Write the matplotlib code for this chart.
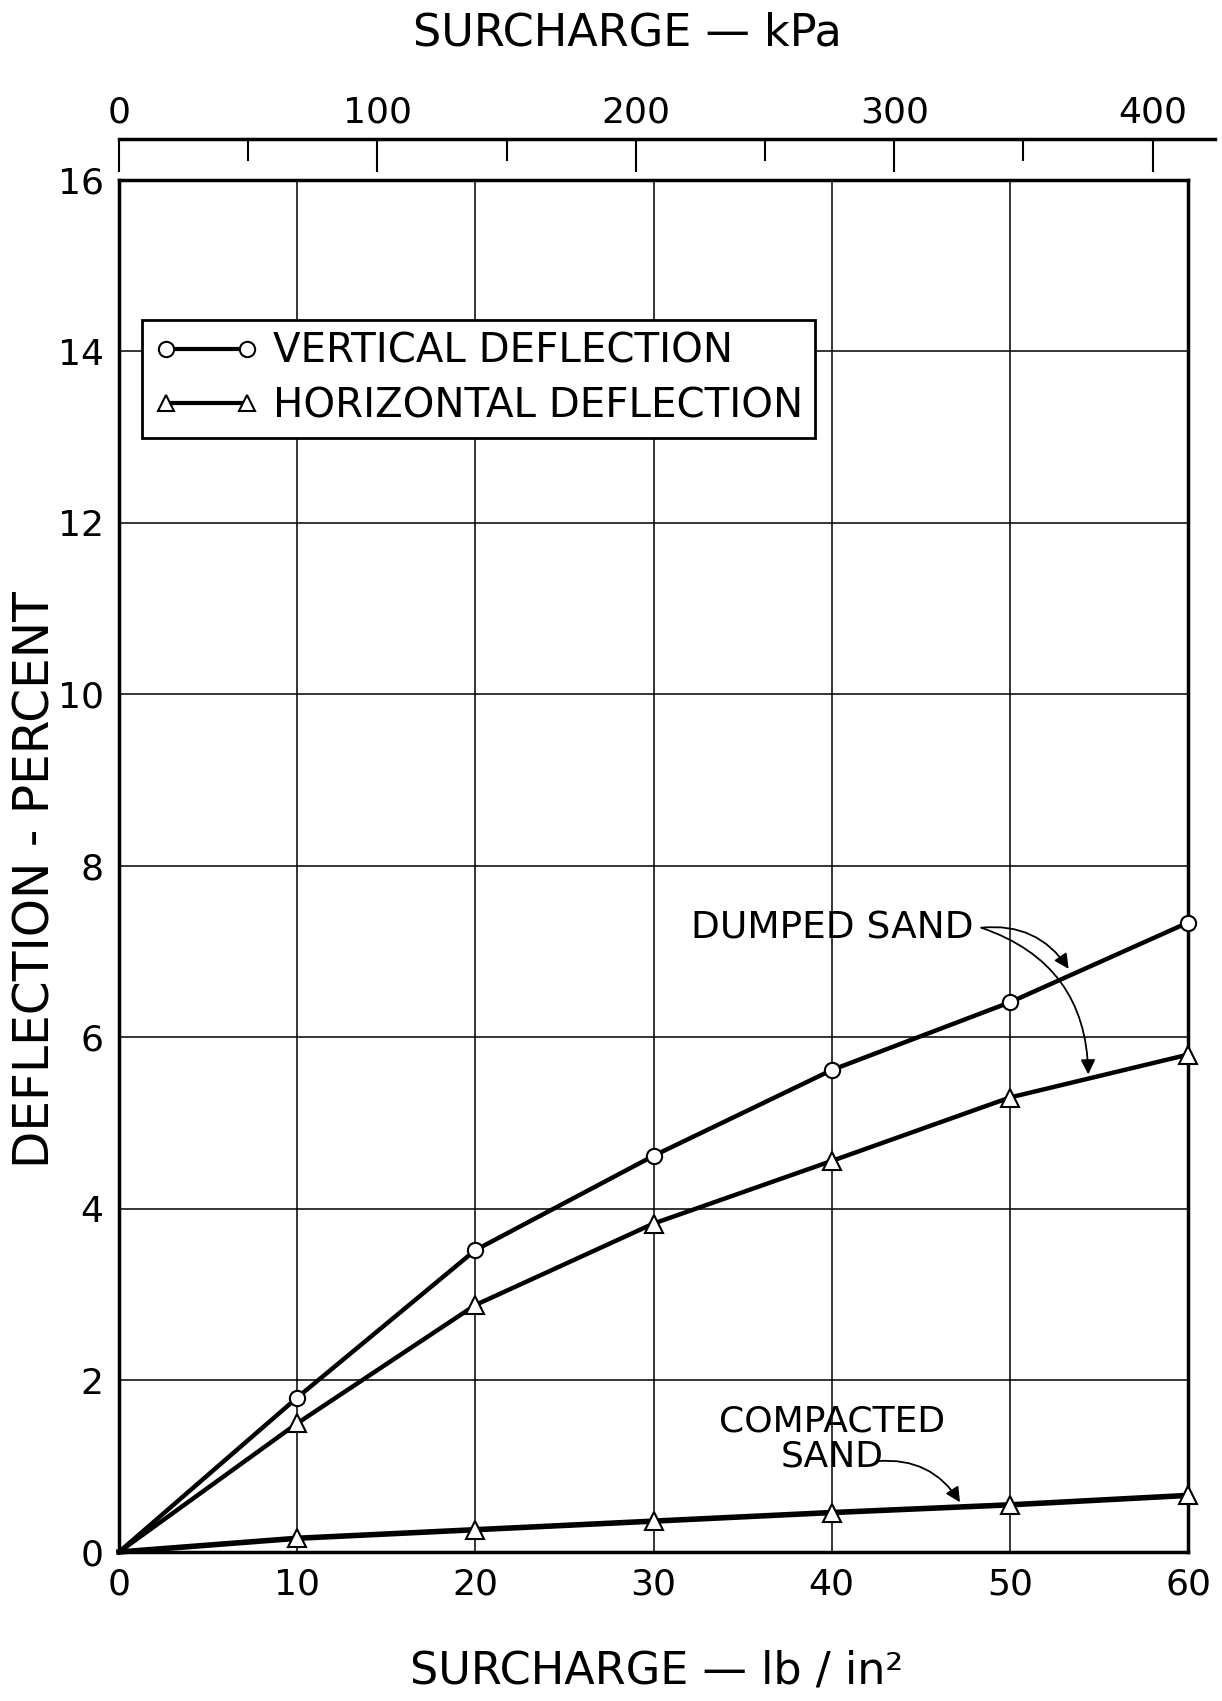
import numpy as np
import matplotlib
matplotlib.use('Agg')
import matplotlib.pyplot as plt
from matplotlib.lines import Line2D

plt.rcParams['font.family'] = ['DejaVu Sans']

# surcharge in lb/in2 and deflection in percent
surcharge_psi = [0, 10, 20, 30, 40, 50, 60]
dumped_vertical = [0, 1.80, 3.52, 4.62, 5.62, 6.41, 7.34]
dumped_horizontal = [0, 1.50, 2.88, 3.83, 4.56, 5.30, 5.80]
compacted_horizontal = [0, 0.16, 0.26, 0.36, 0.46, 0.55, 0.66]

psi_ticks = [0, 10, 20, 30, 40, 50, 60]
defl_ticks = [0, 2, 4, 6, 8, 10, 12, 14, 16]
kpa_major = [0, 100, 200, 300, 400]
kpa_minor = [50, 150, 250, 350]
KPA_PER_PSI = 6.895

fig = plt.figure(figsize=(12.22, 17.01), dpi=100)
ax = fig.add_axes([0.0974, 0.0876, 0.8748, 0.8066])

ax.plot(surcharge_psi, dumped_vertical, color='black', lw=3.2, marker='o', ms=11,
        mfc='white', mec='black', mew=1.5, markevery=slice(1, None), zorder=3, clip_on=False)
ax.plot(surcharge_psi, dumped_horizontal, color='black', lw=3.2, marker='^', ms=13,
        mfc='white', mec='black', mew=1.5, markevery=slice(1, None), zorder=3, clip_on=False)
ax.plot(surcharge_psi, compacted_horizontal, color='black', lw=4, marker='^', ms=13,
        mfc='white', mec='black', mew=1.5, markevery=slice(1, None), zorder=3, clip_on=False)

ax.set_xlim(0, 60)
ax.set_ylim(0, 16)
ax.set_xticks(psi_ticks)
ax.set_yticks(defl_ticks)
ax.tick_params(length=0, labelsize=26)
ax.tick_params(axis='x', pad=11)
ax.tick_params(axis='y', pad=11)
ax.grid(True, color='black', lw=1.1)
for s in ax.spines.values():
    s.set_linewidth(2.5)

# kPa scale on top, drawn as its own axis line
w_main = 0.8748
w_top = 0.8969
axk = fig.add_axes([0.0974, 0.9183, w_top, 0.0001])
axk.set_xlim(0, 60 * KPA_PER_PSI * w_top / w_main)
axk.set_xticks(kpa_major)
axk.set_xticks(kpa_minor, minor=True)
axk.xaxis.set_ticks_position('top')
axk.xaxis.set_label_position('top')
axk.tick_params(axis='x', which='major', direction='in', length=24, width=1.5,
                labelsize=26, pad=7)
axk.tick_params(axis='x', which='minor', direction='in', length=16, width=1.5)
axk.set_yticks([])
for k in ['left', 'right', 'bottom']:
    axk.spines[k].set_visible(False)
axk.spines['top'].set_linewidth(2.5)
axk.patch.set_visible(False)

fig.text(0.513, 0.9806, 'SURCHARGE — kPa', fontsize=32, ha='center', va='center')
fig.text(0.537, 0.0176, 'SURCHARGE — lb / in²', fontsize=32, ha='center', va='center')
fig.text(0.029, 0.483, 'DEFLECTION - PERCENT', fontsize=35, rotation=90,
         ha='center', va='center')

handles = [Line2D([], [], color='black', lw=3, marker='o', ms=11, mfc='white', mew=1.5),
           Line2D([], [], color='black', lw=3, marker='^', ms=12, mfc='white', mew=1.5)]
leg = ax.legend(handles, ['VERTICAL DEFLECTION', 'HORIZONTAL DEFLECTION'],
                loc='upper left', bbox_to_anchor=(0.0215, 0.898), borderaxespad=0,
                numpoints=2, handlelength=2.6, handletextpad=0.35, fontsize=29,
                labelspacing=0.35, borderpad=0.3, fancybox=False, framealpha=1)
leg.get_frame().set_edgecolor('black')
leg.get_frame().set_linewidth(2)

# notes with arrows
ax.text(32.1, 7.27, 'DUMPED SAND', fontsize=27, ha='left', va='center')
arrow = dict(arrowstyle='-|>', color='black', lw=1.3, mutation_scale=22, shrinkA=0, shrinkB=0)
ax.annotate('', xy=(53.3, 6.80), xytext=(48.4, 7.28),
            arrowprops=dict(arrow, connectionstyle='arc3,rad=-0.3'))
ax.annotate('', xy=(54.4, 5.57), xytext=(48.4, 7.28),
            arrowprops=dict(arrow, connectionstyle='arc3,rad=-0.35'))

ax.text(40.0, 1.32, 'COMPACTED\nSAND', fontsize=26, ha='center', va='center',
        multialignment='center', linespacing=1.05)
ax.annotate('', xy=(47.2, 0.58), xytext=(42.6, 1.06),
            arrowprops=dict(arrow, connectionstyle='arc3,rad=-0.3'))

plt.savefig('out.png')
